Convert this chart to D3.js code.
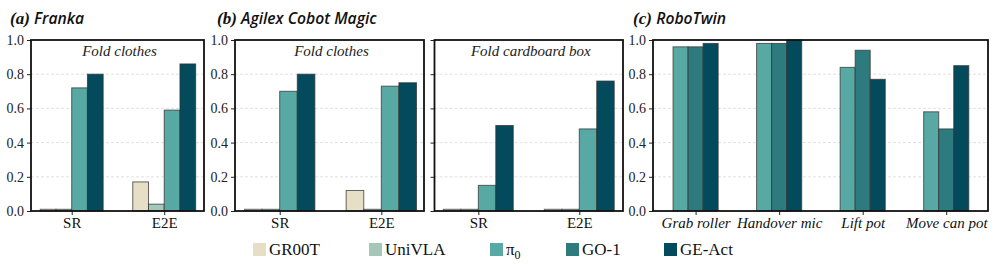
<!DOCTYPE html>
<html><head><meta charset="utf-8">
<script src="https://cdn.jsdelivr.net/npm/d3@7"></script>
<style>body{margin:0;background:#fff}svg{display:block}
.serif{font-family:"Liberation Serif","Times New Roman",Times,serif}
.sansi{font-family:"Open Sans","Noto Sans",sans-serif;font-style:italic;font-weight:600}
</style>
</head><body><svg id="c" width="997" height="269"></svg>
<script>
const seriesNames = ["GR00T","UniVLA","π0","GO-1","GE-Act"];
const seriesColors = ["#e6dfc6","#a5c7b9","#58a9a3","#2e7b7f","#034a5d"];
const yTicks = [0,0.2,0.4,0.6,0.8,1.0];

const frankaCats = ["SR","E2E"];
const frankaSeries = ["GR00T","UniVLA","π0","GE-Act"];
const frankaVals = {GR00T:[0.01,0.17], UniVLA:[0.01,0.04], "π0":[0.72,0.59], "GE-Act":[0.80,0.86]};

const agilexCats = ["SR","E2E"];
const agilexSeries = ["GR00T","UniVLA","π0","GE-Act"];
const foldClothesVals = {GR00T:[0.01,0.12], UniVLA:[0.01,0.01], "π0":[0.70,0.73], "GE-Act":[0.80,0.75]};
const foldBoxVals = {GR00T:[0.01,0.01], UniVLA:[0.01,0.01], "π0":[0.15,0.48], "GE-Act":[0.50,0.76]};

const roboCats = ["Grab roller","Handover mic","Lift pot","Move can pot"];
const roboSeries = ["π0","GO-1","GE-Act"];
const roboVals = {"π0":[0.96,0.98,0.84,0.58], "GO-1":[0.96,0.98,0.94,0.48], "GE-Act":[0.98,1.00,0.77,0.85]};

const svg = d3.select("#c");
const colorOf = n => seriesColors[seriesNames.indexOf(n)];

function panel(o){
  const x = d3.scaleLinear().domain(o.dom).range([o.x0,o.x1]);
  const y = d3.scaleLinear().domain([0,1]).range([211,40]);
  const g = svg.append("g");
  g.selectAll("line.grid").data([0.2,0.4,0.6,0.8]).join("line")
    .attr("x1",o.x0).attr("x2",o.x1).attr("y1",d=>y(d)).attr("y2",d=>y(d))
    .attr("stroke","#d9d9d9").attr("stroke-width",0.8).attr("stroke-dasharray","3,2");
  const n = o.series.length;
  o.series.forEach((s,si)=>{
    o.cats.forEach((c,ci)=>{
      const v = o.vals[s][ci];
      const off = (si - (n-1)/2)*o.bw;
      const xl = x(ci+off-o.bw/2), xr = x(ci+off+o.bw/2);
      g.append("rect").attr("x",xl).attr("width",xr-xl)
        .attr("y",y(v)).attr("height",y(0)-y(v))
        .attr("fill",colorOf(s)).attr("stroke","#333").attr("stroke-opacity",0.75).attr("stroke-width",1);
    });
  });
  const ya = d3.axisLeft(y).tickValues(yTicks).tickSize(4).tickPadding(3)
    .tickFormat(o.ylabels ? d3.format(".1f") : "");
  const yg = g.append("g").attr("transform",`translate(${o.x0},0)`).call(ya);
  yg.attr("font-family",null).attr("font-size",null);
  yg.select(".domain").remove();
  yg.selectAll("text").attr("class","serif").style("font-size","14px").attr("fill","#222");
  yg.selectAll("line").attr("stroke","#222");
  const xa = d3.axisBottom(x).tickValues(o.cats.map((c,i)=>i)).tickSize(4).tickPadding(2)
    .tickFormat((d)=>o.cats[d]);
  const xg = g.append("g").attr("transform",`translate(0,211)`).call(xa);
  xg.attr("font-family",null).attr("font-size",null);
  xg.select(".domain").remove();
  xg.selectAll("line").attr("stroke","#222");
  xg.selectAll("text").attr("class","serif").style("font-size","15px").attr("fill","#111")
    .style("font-style",o.italicX?"italic":"normal");
  g.append("rect").attr("x",o.x0).attr("y",40).attr("width",o.x1-o.x0).attr("height",171)
    .attr("fill","none").attr("stroke","#111").attr("stroke-width",1.8);
  if(o.note){
    g.append("text").attr("class","serif").attr("x",(o.x0+o.x1)/2+2).attr("y",56).attr("text-anchor","middle")
      .style("font-style","italic").style("font-size","15px").attr("fill","#222").text(o.note);
  }
}

panel({x0:31,x1:204,dom:[-0.44,1.43],bw:0.17,cats:frankaCats,series:frankaSeries,vals:frankaVals,ylabels:true,note:"Fold clothes"});
panel({x0:235,x1:424,dom:[-0.44,1.42],bw:0.173,cats:agilexCats,series:agilexSeries,vals:foldClothesVals,ylabels:true,note:"Fold clothes"});
panel({x0:434.5,x1:623,dom:[-0.434,1.433],bw:0.173,cats:agilexCats,series:agilexSeries,vals:foldBoxVals,ylabels:false,note:"Fold cardboard box"});
panel({x0:653,x1:988,dom:[-0.51,3.5],bw:0.18,cats:roboCats,series:roboSeries,vals:roboVals,ylabels:true,italicX:true});

function title(x,label,name){
  const t = svg.append("text").attr("x",x).attr("y",24).attr("fill","#111");
  t.append("tspan").attr("class","serif").style("font-style","italic").style("font-weight","bold").style("font-size","17px").text(label+" ");
  t.append("tspan").attr("class","sansi").style("font-size","15.7px").text(name);
}
title(10,"(a)","Franka");
title(217,"(b)","Agilex Cobot Magic");
title(633,"(c)","RoboTwin");

const legX = [253,369,490,566,664];
const lg = svg.append("g");
seriesNames.forEach((s,i)=>{
  lg.append("rect").attr("x",legX[i]).attr("y",243).attr("width",13).attr("height",13).attr("fill",seriesColors[i]);
  const t = lg.append("text").attr("class","serif").attr("x",legX[i]+16).attr("y",254.5).style("font-size","17px").attr("fill","#111");
  if(s==="π0"){
    t.append("tspan").text("π");
    t.append("tspan").style("font-size","12px").attr("dy",4).text("0");
  } else t.text(s);
});
</script></body></html>
